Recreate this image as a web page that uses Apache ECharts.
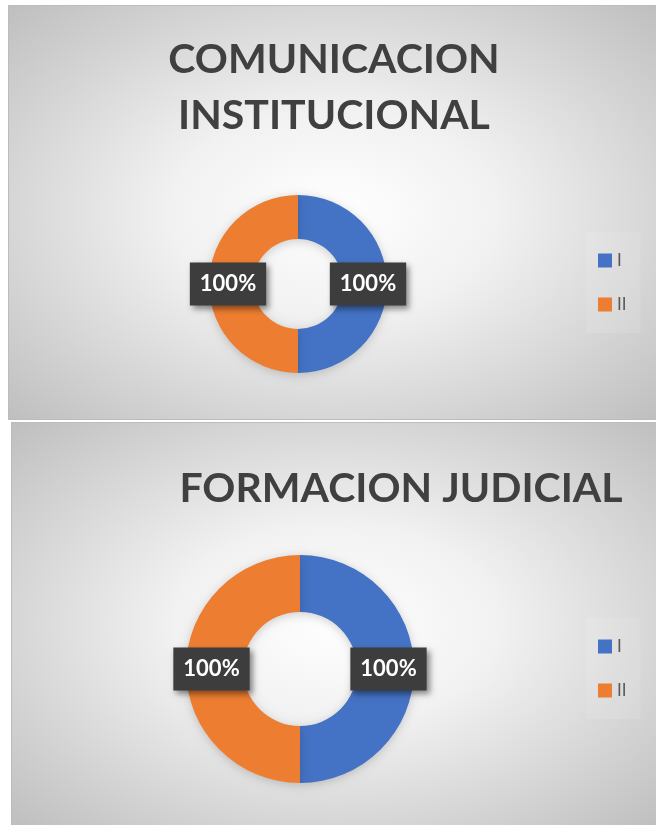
<!DOCTYPE html>
<html>
<head>
<meta charset="utf-8">
<script src="https://cdn.jsdelivr.net/npm/echarts@6/dist/echarts.min.js"></script>
<style>
html,body{margin:0;padding:0;background:#ffffff;}
#chart{width:656px;height:825px;}
</style>
</head>
<body>
<div id="chart"></div>
<script>
// ---- data ----
const categories = ['I', 'II'];
const titleTop = 'COMUNICACION\nINSTITUCIONAL';
const titleBottom = 'FORMACION JUDICIAL';
const valuesComunicacion = [100, 100];   // percent
const valuesFormacion = [100, 100];      // percent
const colors = ['#4472C4', '#ED7D31'];

const chart = echarts.init(document.getElementById('chart'), null, {renderer: 'canvas'});

function panel(x, y, w, h) {
  const s = h;
  return [
    {
      type: 'rect', silent: true, z: -10,
      x: x, y: y, scaleX: w / s, scaleY: 1,
      shape: {x: 0, y: 0, width: s, height: s},
      style: {
        fill: new echarts.graphic.RadialGradient(0.5, 0.5, 0.72, [
          {offset: 0, color: '#ffffff'},
          {offset: 0.35, color: '#f1f1f1'},
          {offset: 1, color: '#bdbdbd'}
        ])
      }
    },
    {
      type: 'rect', silent: true, z: -9,
      shape: {x: x + 0.5, y: y + 0.5, width: w, height: h - 1},
      style: {fill: null, stroke: '#bcbcbc', lineWidth: 1}
    }
  ];
}

const labelStyle = {
  show: true,
  position: 'inside',
  formatter: '{c}%',
  color: '#ffffff',
  fontFamily: 'Lato',
  fontWeight: 'bold',
  fontSize: 22,
  backgroundColor: '#3d3d3d',
  padding: [11, 10, 10, 10],
  shadowColor: 'rgba(0,0,0,0.45)',
  shadowBlur: 6,
  shadowOffsetX: 3,
  shadowOffsetY: 3
};

function pieData(vals) {
  return categories.map((c, i) => ({name: c, value: vals[i]}));
}

const option = {
  animation: false,
  color: colors,
  graphic: [].concat(panel(8, 5, 652, 415), panel(11, 422, 650, 404)),
  title: [
    {
      text: titleTop, left: 329, top: 27, textAlign: 'center',
      textStyle: {fontFamily: 'Lato', fontWeight: 'bold', fontSize: 41, lineHeight: 56, color: '#404040'}
    },
    {
      text: titleBottom, left: 396, top: 456, textAlign: 'center',
      textStyle: {fontFamily: 'Lato', fontWeight: 'bold', fontSize: 41, lineHeight: 56, color: '#404040'}
    }
  ],
  legend: [
    {
      data: categories, orient: 'vertical', left: 586, top: 232,
      itemWidth: 14, itemHeight: 14, itemGap: 27, icon: 'rect',
      padding: [20, 14, 20, 12],
      backgroundColor: 'rgba(255,255,255,0.1)',
      textStyle: {fontFamily: 'Lato', fontSize: 17, color: '#595959'},
      seriesIndex: 0
    },
    {
      data: categories, orient: 'vertical', left: 586, top: 618,
      itemWidth: 14, itemHeight: 14, itemGap: 27, icon: 'rect',
      padding: [20, 14, 20, 12],
      backgroundColor: 'rgba(255,255,255,0.1)',
      textStyle: {fontFamily: 'Lato', fontSize: 17, color: '#595959'}
    }
  ],
  series: [
    {
      type: 'pie', center: [298, 284], radius: [45, 89],
      startAngle: 90, clockwise: true, silent: true,
      itemStyle: {shadowColor: 'rgba(0,0,0,0.18)', shadowBlur: 10, shadowOffsetY: 2},
      label: labelStyle, labelLine: {show: false},
      data: pieData(valuesComunicacion)
    },
    {
      type: 'pie', center: [300, 669], radius: [57, 114],
      startAngle: 90, clockwise: true, silent: true,
      itemStyle: {shadowColor: 'rgba(0,0,0,0.18)', shadowBlur: 10, shadowOffsetY: 2},
      label: labelStyle, labelLine: {show: false},
      data: pieData(valuesFormacion)
    }
  ]
};
chart.setOption(option);
</script>
</body>
</html>
